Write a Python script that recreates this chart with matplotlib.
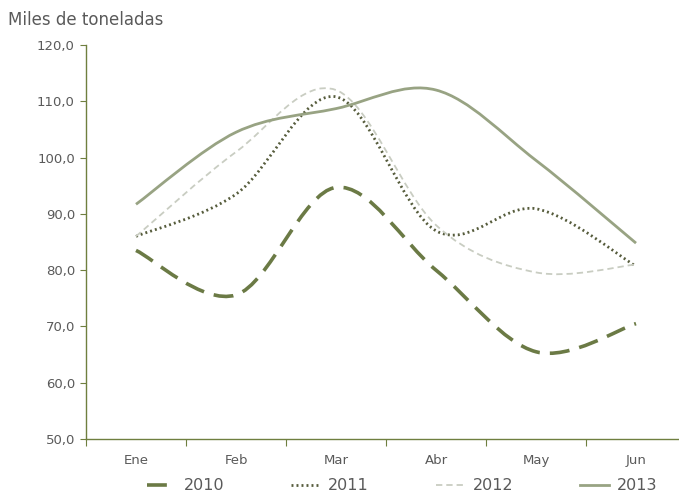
import numpy as np
import matplotlib.pyplot as plt
from matplotlib.path import Path
from matplotlib.patches import PathPatch
from matplotlib.lines import Line2D

# Data (miles de toneladas)
months = ['Ene', 'Feb', 'Mar', 'Abr', 'May', 'Jun']
y2010 = [83.5, 75.6, 94.7, 80.0, 65.5, 70.5]
y2011 = [86.0, 93.5, 110.8, 87.0, 90.9, 80.7]
y2012 = [86.0, 101.0, 112.0, 88.0, 79.6, 81.0]
y2013 = [91.7, 104.5, 108.7, 112.0, 99.5, 84.8]

series = [
    ('2010', y2010, dict(color='#6b7a45', lw=2.6, ls=(0, (5.5, 2.8)))),
    ('2011', y2011, dict(color='#565c3c', lw=2.0, ls=(0, (0.7, 1.1)))),
    ('2012', y2012, dict(color='#c9cdc2', lw=1.3, ls=(0, (3.5, 2.2)))),
    ('2013', y2013, dict(color='#98a383', lw=2.0, ls='-')),
]


def smooth_path(xs, ys):
    # Excel-style smoothed line: cubic Bezier segments through the points
    pts = np.column_stack([xs, ys]).astype(float)
    n = len(pts)
    verts = [pts[0]]
    codes = [Path.MOVETO]
    for i in range(n - 1):
        p0 = pts[i - 1] if i > 0 else pts[i]
        p1 = pts[i]
        p2 = pts[i + 1]
        p3 = pts[i + 2] if i + 2 < n else pts[i + 1]
        c1 = p1 + (p2 - p0) / 6.0
        c2 = p2 - (p3 - p1) / 6.0
        verts += [c1, c2, p2]
        codes += [Path.CURVE4] * 3
    return Path(verts, codes)


fig = plt.figure(figsize=(6.79, 4.93), dpi=100)
ax = fig.add_axes([86 / 679, 1 - 439 / 493, 600 / 679, 394 / 493])

x = np.arange(len(months))
handles = []
for name, vals, st in series:
    patch = PathPatch(smooth_path(x, vals), fill=False, edgecolor=st['color'],
                      lw=st['lw'], ls=st['ls'], capstyle='butt')
    ax.add_patch(patch)
    handles.append(Line2D([], [], color=st['color'], lw=st['lw'], ls=st['ls']))

ax.set_xlim(-0.5, 5.5)
ax.set_ylim(50, 120)

axis_col = '#6f7f3f'
txt_col = '#5a5a5a'
for s in ['top', 'right']:
    ax.spines[s].set_visible(False)
for s in ['left', 'bottom']:
    ax.spines[s].set_color(axis_col)
    ax.spines[s].set_linewidth(1.0)

ax.set_yticks(np.arange(50, 121, 10))
ax.set_yticklabels([f'{v:.1f}'.replace('.', ',') for v in np.arange(50, 121, 10)])
ax.tick_params(axis='y', direction='out', length=4, color=axis_col,
               labelcolor=txt_col, labelsize=9.5, pad=4)

ax.set_xticks(np.arange(-0.5, 5.6, 1.0))
ax.set_xticklabels([])
ax.tick_params(axis='x', direction='out', length=5, color=axis_col)
ax.set_xticks(x, minor=True)
ax.set_xticklabels(months, minor=True)
ax.tick_params(axis='x', which='minor', length=0, labelcolor=txt_col,
               labelsize=9.5, pad=11)

fig.text(8 / 679, 1 - 20 / 493, 'Miles de toneladas', fontsize=12,
         color=txt_col, va='center', ha='left')

fig.legend(handles, [s[0] for s in series], loc='center',
           bbox_to_anchor=(402 / 679, 1 - 486 / 493), ncol=4, frameon=False,
           fontsize=11.5, handlelength=1.8, handletextpad=0.5,
           columnspacing=4.2, labelcolor=txt_col)

fig.savefig('out.png', dpi=100)
